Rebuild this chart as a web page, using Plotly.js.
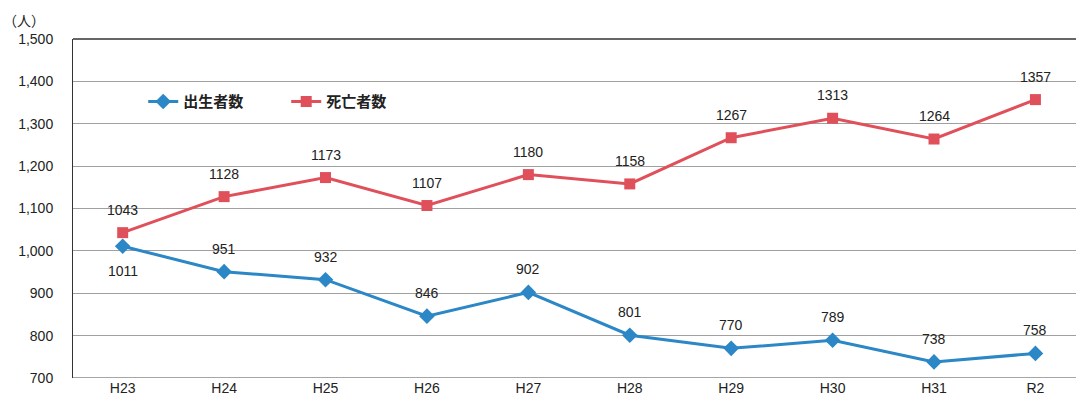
<!DOCTYPE html>
<html><head><meta charset="utf-8">
<script src="https://cdn.plot.ly/plotly-3.0.1.min.js"></script>
<style>body{margin:0;background:#fff}#c{width:1076px;height:403px}</style>
</head><body><div id="c"></div>
<script>
const categories = ["H23","H24","H25","H26","H27","H28","H29","H30","H31","R2"];
const births = [1011,951,932,846,902,801,770,789,738,758];
const deaths = [1043,1128,1173,1107,1180,1158,1267,1313,1264,1357];
const birthLabelBelow = [true,false,false,false,false,false,false,false,false,false];
const yTicks = [700,800,900,1000,1100,1200,1300,1400,1500];

const fontF = "Liberation Sans, Arial, Noto Sans CJK JP, sans-serif";
const traces = [
 {x:categories,y:births,name:"出生者数",type:"scatter",mode:"lines+markers",
  line:{color:"#2b87c6",width:3},marker:{symbol:"diamond",size:12,color:"#2b87c6"}},
 {x:categories,y:deaths,name:"死亡者数",type:"scatter",mode:"lines+markers",
  line:{color:"#e0505a",width:3},marker:{symbol:"square",size:11,color:"#e0505a"}}
];
const labelFont = {family:fontF,size:14,color:"#222"};
const annotations = [];
categories.forEach((c,i)=>{
  annotations.push({x:c,y:deaths[i],xref:"x",yref:"y",text:String(deaths[i]),showarrow:false,yshift:23,font:labelFont});
  annotations.push({x:c,y:births[i],xref:"x",yref:"y",text:String(births[i]),showarrow:false,yshift:birthLabelBelow[i]?-25:23,font:labelFont});
});
annotations.push({text:"（人）",xref:"paper",yref:"paper",x:-0.072,y:1.02,xanchor:"left",yanchor:"bottom",showarrow:false,
   font:{family:"Noto Sans CJK JP, sans-serif",size:14,color:"#222"}});
const layout = {
 width:1076,height:403,margin:{l:73,r:0,t:39,b:25},
 paper_bgcolor:"#fff",plot_bgcolor:"#fff",
 font:{family:fontF,size:14,color:"#222"},
 showlegend:true,
 legend:{orientation:"h",x:0.07,y:0.815,xanchor:"left",yanchor:"middle",entrywidth:98,
   font:{family:"Noto Sans CJK JP, sans-serif",size:15,color:"#222",weight:"bold"},bgcolor:"rgba(0,0,0,0)",tracegroupgap:0},
 xaxis:{type:"category",range:[-0.49,9.4],showgrid:false,zeroline:false,showline:false,ticks:"",
   tickfont:{size:14,color:"#222"},fixedrange:true},
 yaxis:{range:[700,1500],tickvals:yTicks,tickformat:",",showgrid:true,gridcolor:"#a0a0a0",gridwidth:1,
   showline:true,linecolor:"#333",linewidth:1,zeroline:false,ticks:"",tickfont:{size:14,color:"#222"},ticklabelstandoff:16},
 shapes:[
  {type:"line",xref:"paper",yref:"paper",x0:0,x1:1,y0:1,y1:1,line:{color:"#333",width:1.5}},
  {type:"line",xref:"paper",yref:"y",x0:0,x1:1,y0:700,y1:700,line:{color:"#888",width:1.5}}
 ],
 annotations:annotations
};
Plotly.newPlot("c",traces,layout,{displayModeBar:false,staticPlot:true});
</script></body></html>
